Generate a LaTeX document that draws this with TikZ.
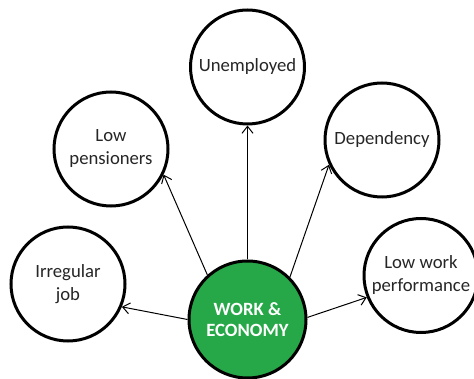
\documentclass[tikz,border=0pt]{standalone}
\usepackage{fontspec}
\setmainfont{Carlito}
\usetikzlibrary{arrows.meta}
\definecolor{ecogreen}{RGB}{38,168,72}
\tikzset{
  bubble/.style={circle, draw=black, line width=3pt, fill=white, minimum size=114pt, inner sep=0pt,
    align=center, font=\fontsize{18.7}{23}\selectfont, text=black!85},
  hub/.style={circle, draw=black, line width=3pt, fill=ecogreen, minimum size=117pt, inner sep=0pt,
    align=center, font=\fontsize{18.7}{21.5}\selectfont\bfseries, text=white},
  link/.style={draw=black, line width=1pt, -{Straight Barb[length=7pt,width=11pt,line width=1pt]}}
}
\begin{document}
\begin{tikzpicture}[x=1pt, y=-1pt]
\useasboundingbox (0,0) rectangle (474,379);
\node[hub] (c) at (247.5,319.5) {WORK \&\\ECONOMY};
\node[bubble] (un) at (247.5,67) {Unemployed};
\node[bubble] (lp) at (111,149) {Low\\pensioners};
\node[bubble] (dp) at (382,140) {Dependency};
\node[bubble] (ij) at (68,284) {Irregular\\job};
\node[bubble] (lw) at (421,275.5) {Low work\\performance};
\draw[link] (c.90) -- (un.270);
\draw[link] (c.132) -- (lp.-26);
\draw[link] (c.45) -- (dp.205);
\draw[link] (c.180) -- (ij.-23);
\draw[link] (c.2) -- (lw.202);
\end{tikzpicture}
\end{document}
